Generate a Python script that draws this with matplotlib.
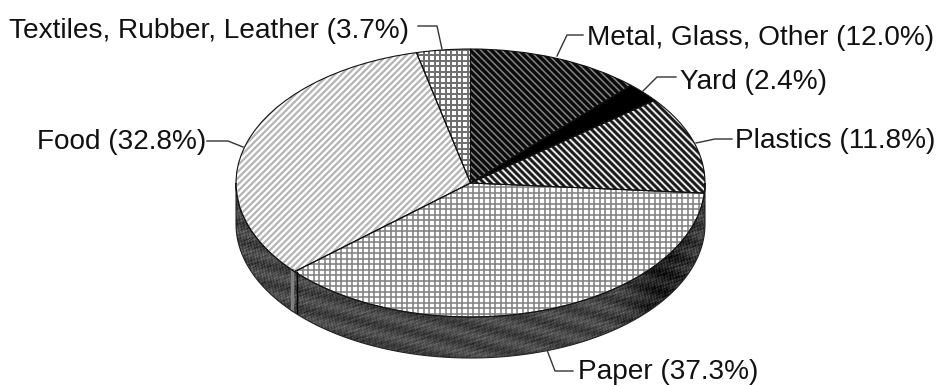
import numpy as np
import matplotlib
matplotlib.use('Agg')
import matplotlib.pyplot as plt
from matplotlib.collections import LineCollection
from matplotlib.patches import Polygon
from matplotlib.transforms import IdentityTransform

names = ['Metal, Glass, Other', 'Yard', 'Plastics', 'Paper', 'Food', 'Textiles, Rubber, Leather']
shares = [12.0, 2.4, 11.8, 37.3, 32.8, 3.7]
face_colours = ['#808080', 'black', '#e8e8e8', 'white', 'white', 'white']

W, H = 938, 385
CX, CY, RX, RY = 470.5, 183, 234.5, 134
DEPTH = 41

plt.rcParams['font.family'] = ['Liberation Sans', 'DejaVu Sans']


def px(x, y):
    return (x - CX) / RX, (CY - y) / RY


def hatch(ax, wedge, kind, pitch, lw, colour):
    # hatch lines live in screen pixels so the squashed axes do not skew them
    segs = []
    if 'back' in kind:
        segs += [[(x, H), (x + H, 0)] for x in np.arange(-H, W, pitch)]
    if 'fwd' in kind:
        segs += [[(x, 0), (x + H, H)] for x in np.arange(-H, W, pitch)]
    if 'h' in kind:
        segs += [[(0, y), (W, y)] for y in np.arange(0, H, pitch)]
    if 'v' in kind:
        segs += [[(x, 0), (x, H)] for x in np.arange(0, W, pitch)]
    lc = LineCollection(segs, colors=colour, linewidths=lw, transform=IdentityTransform(), zorder=2)
    ax.add_collection(lc, autolim=False)
    lc.set_clip_path(wedge)


def side_wall(ax):
    t = np.linspace(np.pi, 2 * np.pi, 200)
    x, y = np.cos(t), np.sin(t)
    drop = DEPTH / RY
    pts = np.vstack([np.c_[x, y], np.c_[x[::-1], y[::-1] - drop]])
    wall = Polygon(pts, closed=True, fc='none', ec='#222222', lw=0.8, zorder=1.5)
    ax.add_patch(wall)

    # mottled dark print on the rim, heaviest towards the right
    gx, gy = np.meshgrid(np.arange(480), np.arange(200))
    tex = (np.sin(gx * 1.31 + gy * 2.17) + np.sin(gx * 2.13 - gy * 0.43)
           + np.sin(gx * 0.77 + gy * 0.91) * np.sin(gx * 0.19 - gy * 0.63)
           + np.sin(gx * 0.37 + gy * 1.29) * np.sin(gx * 0.11 + gy * 0.23)
           + np.sin(gx * 0.07 - gy * 0.31))
    tex = 0.28 + 0.05 * tex - 0.16 * np.exp(-((gx - 432) / 32.0) ** 2)
    im = ax.imshow(tex, extent=(-1.02, 1.02, -1 - drop - 0.02, 0.02), aspect='auto',
                   cmap='gray', vmin=0, vmax=1, zorder=1, interpolation='bilinear')
    im.set_clip_path(wall)


def main():
    fig = plt.figure(figsize=(W / 100, H / 100), dpi=100)
    ax = fig.add_axes([0, 0, 1, 1])

    wedges, _ = ax.pie(shares, startangle=90, counterclock=False, radius=1,
                       colors=face_colours, wedgeprops={'linewidth': 0})
    ax.pie(shares, startangle=90, counterclock=False, radius=1,
           wedgeprops={'fill': False, 'edgecolor': '#111111', 'linewidth': 0.8, 'zorder': 3})

    side_wall(ax)

    hatch(ax, wedges[0], 'back', 7.0, 2.4, '#0a0a0a')
    hatch(ax, wedges[2], 'back', 7.0, 2.1, '#1a1a1a')
    hatch(ax, wedges[3], 'h v', 5.5, 1.1, '#7c7c7c')
    hatch(ax, wedges[4], 'fwd', 6.5, 1.6, '#b4b4b4')
    hatch(ax, wedges[5], 'h v', 5.5, 1.4, '#6e6e6e')

    ax.set_aspect('auto')
    ax.set_xlim((0 - CX) / RX, (W - CX) / RX)
    ax.set_ylim((CY - H) / RY, CY / RY)
    ax.axis('off')

    # boundary of food and paper carried down the rim
    end_food = np.deg2rad(90 - sum(shares[:4]) * 3.6)
    ex = np.cos(end_food)
    ey = np.sin(end_food)
    ax.plot([ex + 0.012, ex + 0.012], [ey, ey - DEPTH / RY], color='black', lw=1, zorder=2)
    ax.plot([ex - 0.012, ex - 0.012], [ey + 0.01, ey - DEPTH / RY + 0.03], color='#808080', lw=2.5, zorder=1.2)

    labels = [f'{n} ({s:.1f}%)' for n, s in zip(names, shares)]
    label_pos = [(587, 38), (680, 82), (735, 141), (578, 372), (37, 142), (9, 31)]
    leaders = [
        [(583, 35), (567, 35), (557, 56)],
        [(676, 77), (657, 77), (643, 91)],
        [(732, 139), (715, 139), (696, 143)],
        [(573, 371), (555, 371), (547, 350)],
        [(207, 141), (228, 141), (243, 147)],
        [(418, 26), (437, 26), (442, 49)],
    ]
    for text, pos, leader in zip(labels, label_pos, leaders):
        x, y = px(*pos)
        ax.text(x, y, text, fontsize=20.2, color='#111111', ha='left', va='center')
        lx, ly = zip(*[px(*p) for p in leader])
        ax.plot(lx, ly, color='#333333', lw=1, zorder=4)

    plt.savefig('out.png', dpi=100)


main()
